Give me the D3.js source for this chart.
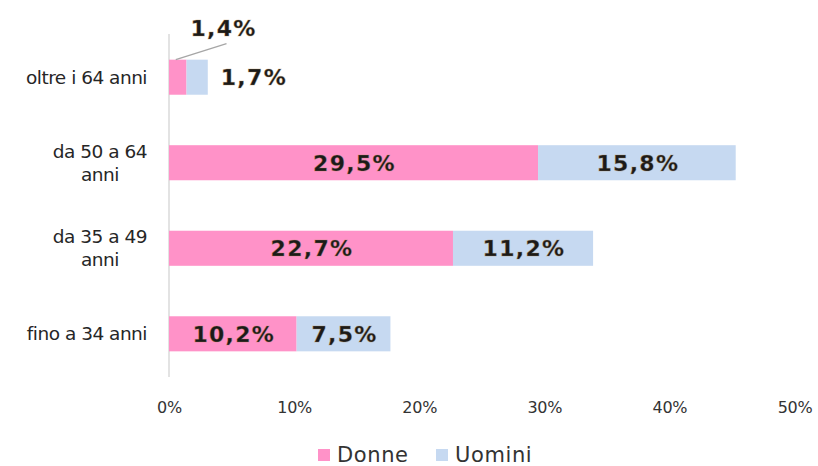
<!DOCTYPE html>
<html>
<head>
<meta charset="utf-8">
<script src="https://cdn.jsdelivr.net/npm/d3@7/dist/d3.min.js"></script>
<style>
  body { margin: 0; background: #fff; }
  svg { display: block; }
</style>
</head>
<body>
<div id="chartcontainer"></div>
<script>
// chart data, first item is the top bar
var categories = [["oltre i 64 anni"], ["da 50 a 64", "anni"], ["da 35 a 49", "anni"], ["fino a 34 anni"]];
var donne = [1.4, 29.5, 22.7, 10.2];
var uomini = [1.7, 15.8, 11.2, 7.5];
var xTicks = [0, 10, 20, 30, 40, 50];
var seriesNames = ["Donne", "Uomini"];
var seriesColors = ["#ff92c8", "#c6d9f1"];

var width = 818, height = 466;
var margin = { top: 34, right: 24, bottom: 89, left: 169 };

var svg = d3.select("#chartcontainer").append("svg")
    .attr("width", width)
    .attr("height", height);

var x = d3.scaleLinear()
    .domain([0, 50])
    .range([margin.left, margin.left + 625.5]);

var y = d3.scaleBand()
    .domain(d3.range(categories.length))
    .range([margin.top, height - margin.bottom])
    .paddingInner(0.59)
    .paddingOuter(0.3);

var fmt = function (v) { return d3.format(".1f")(v).replace(".", ",") + "%"; };

// vertical axis line
svg.append("line")
    .attr("x1", x(0)).attr("x2", x(0))
    .attr("y1", margin.top).attr("y2", height - margin.bottom)
    .attr("stroke", "#d4d4d4").attr("stroke-width", 1.3);

// x axis tick labels
var xAxis = d3.axisBottom(x).tickValues(xTicks).tickSize(0).tickPadding(0)
    .tickFormat(function (d) { return d + "%"; });
var gx = svg.append("g")
    .attr("transform", "translate(0," + (height - margin.bottom + 25) + ")")
    .call(xAxis);
gx.select(".domain").remove();
gx.selectAll("text")
    .attr("font-family", "DejaVu Sans")
    .attr("font-size", 16)
    .attr("letter-spacing", -0.3)
    .attr("fill", "#333");

// category labels (lines centred inside a right-aligned block)
categories.forEach(function (lines, i) {
    var g = svg.append("g");
    var lh = 23;
    var cy = y(i) + y.bandwidth() / 2;
    var texts = lines.map(function (t, k) {
        return g.append("text")
            .attr("font-family", "DejaVu Sans")
            .attr("font-size", 18.5)
            .attr("letter-spacing", -0.5)
            .attr("fill", "#262626")
            .attr("text-anchor", "middle")
            .attr("y", cy + 6.5 + (k - (lines.length - 1) / 2) * lh)
            .text(t);
    });
    var w = d3.max(texts, function (t) { return t.node().getComputedTextLength(); });
    texts.forEach(function (t) { t.attr("x", 147 - w / 2); });
});

// bars
var rows = categories.map(function (c, i) { return [donne[i], uomini[i]]; });
rows.forEach(function (vals, i) {
    var start = 0;
    vals.forEach(function (v, s) {
        svg.append("rect")
            .attr("x", x(start))
            .attr("y", y(i))
            .attr("width", x(start + v) - x(start))
            .attr("height", y.bandwidth())
            .attr("fill", seriesColors[s]);
        start += v;
    });
});

// data labels
function label(tx, ty, v, anchor) {
    svg.append("text")
        .attr("x", tx).attr("y", ty)
        .attr("text-anchor", anchor || "middle")
        .attr("font-family", "DejaVu Sans")
        .attr("font-weight", "bold")
        .attr("font-size", 22)
        .attr("letter-spacing", 1.3)
        .attr("fill", "#1a1a1a")
        .attr("stroke", "#b08850")
        .attr("stroke-opacity", 0.3)
        .attr("stroke-width", 1)
        .text(fmt(v));
}

rows.forEach(function (vals, i) {
    var cy = y(i) + y.bandwidth() / 2 + 8;
    var d = vals[0], u = vals[1];
    if (d + u < 5) {
        // too small: labels outside, Donne with leader line
        label(x(d + u) + 13, cy, u, "start");
        label(x(d) + 4, y(i) - 24, d, "start");
        svg.append("line")
            .attr("x1", x(d / 2) - 2).attr("y1", y(i))
            .attr("x2", x(d) + 40).attr("y2", y(i) - 16)
            .attr("stroke", "#a6a6a6").attr("stroke-width", 1.3);
    } else {
        label(x(d / 2) + 1, cy, d);
        label(x(d + u / 2) + 1, cy, u);
    }
});

// legend
var legend = svg.append("g").attr("transform", "translate(318," + (height - 3) + ")");
var lx = [0, 118];
seriesNames.forEach(function (n, s) {
    legend.append("rect")
        .attr("x", lx[s]).attr("y", -14)
        .attr("width", 12).attr("height", 12)
        .attr("fill", seriesColors[s]);
    legend.append("text")
        .attr("x", lx[s] + 19).attr("y", -1)
        .attr("font-family", "DejaVu Sans")
        .attr("font-size", 21)
        .attr("letter-spacing", 0.6)
        .attr("fill", "#333")
        .text(n);
});
</script>
</body>
</html>
